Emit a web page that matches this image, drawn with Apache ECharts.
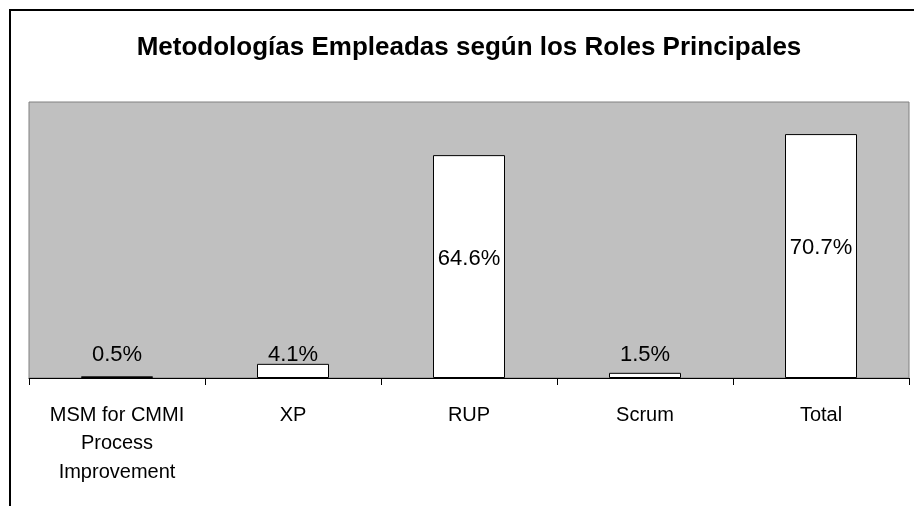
<!DOCTYPE html>
<html>
<head>
<meta charset="utf-8">
<script src="https://cdn.jsdelivr.net/npm/echarts@6/dist/echarts.min.js"></script>
<style>
html,body{margin:0;padding:0;background:#fff;}
#c{width:914px;height:506px;}
</style>
</head>
<body>
<div id="c"></div>
<script>
const titleText = 'Metodologías Empleadas según los Roles Principales';
const categories = ['MSM for CMMI\nProcess\nImprovement', 'XP', 'RUP', 'Scrum', 'Total'];
const values = [0.5, 4.1, 64.6, 1.5, 70.7];
const yMin = 0;
const yMax = 80;

const FONT = '"Liberation Sans", Arial, sans-serif';
const chart = echarts.init(document.getElementById('c'), null, {renderer: 'canvas'});

const seriesData = values.map(v => {
  const big = v > 10;
  return {
    value: v,
    label: big
      ? {position: 'inside', offset: [0, -8]}
      : {position: 'insideBottom', distance: 12}
  };
});

chart.setOption({
  animation: false,
  backgroundColor: '#ffffff',
  title: {
    text: titleText,
    left: 464,
    textAlign: 'center',
    top: 30,
    textStyle: {fontFamily: FONT, fontSize: 26, fontWeight: 'bold', color: '#000'}
  },
  graphic: [{
    type: 'rect',
    shape: {x: 10, y: 10, width: 1000, height: 1000},
    style: {fill: 'none', stroke: '#000', lineWidth: 2},
    silent: true,
    z: 100
  }],
  grid: {
    left: 29, right: 5, top: 102, bottom: 128,
    show: true,
    backgroundColor: '#C0C0C0',
    borderColor: '#808080',
    borderWidth: 1,
    containLabel: false
  },
  xAxis: {
    type: 'category',
    data: categories,
    boundaryGap: true,
    axisLine: {show: true, lineStyle: {color: '#000', width: 1}},
    axisTick: {show: true, length: 7, lineStyle: {color: '#000', width: 1}},
    axisLabel: {
      interval: 0,
      margin: 23,
      fontFamily: FONT,
      fontSize: 20,
      lineHeight: 28.5,
      color: '#000'
    },
    splitLine: {show: false}
  },
  yAxis: {
    type: 'value',
    min: yMin,
    max: yMax,
    show: false,
    splitLine: {show: false}
  },
  series: [{
    type: 'bar',
    data: seriesData,
    barWidth: 72,
    itemStyle: {color: '#ffffff', borderColor: '#000', borderWidth: 1},
    label: {
      show: true,
      fontFamily: FONT,
      fontSize: 22,
      color: '#000',
      formatter: p => p.value.toFixed(1) + '%'
    }
  }]
});
</script>
</body>
</html>
